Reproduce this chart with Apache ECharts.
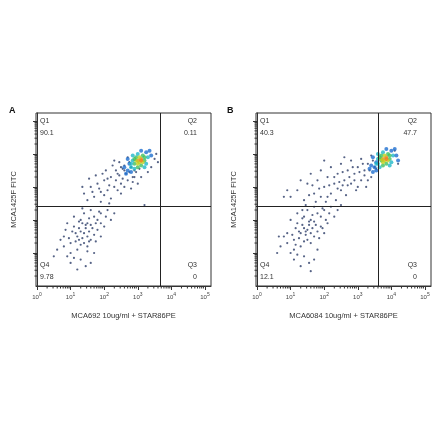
<!DOCTYPE html>
<html><head><meta charset="utf-8">
<script src="https://cdn.jsdelivr.net/npm/echarts@6/dist/echarts.min.js"></script>
<style>html,body{margin:0;background:#fff}#c{width:440px;height:441px}</style></head>
<body><div id="c"></div>
<script>
// values are log10 of fluorescence
const decades = [0,1,2,3,4,5];
const gateA = {x:3.66, y:2.42}, gateB = {x:3.6, y:2.42};
const quadA = {Q1:'90.1', Q2:'0.11', Q3:'0', Q4:'9.78'};
const quadB = {Q1:'40.3', Q2:'47.7', Q3:'0', Q4:'12.1'};
const titlesX = ['MCA692 10ug/ml + STAR86PE','MCA6084 10ug/ml + STAR86PE'];
const titleY = 'MCA1425F FITC';

const lowA = [[0.6,1.1],[0.8,1.5],[0.9,0.9],[1.0,1.3],[1.1,1.8],[1.2,1.5],[1.3,2.0],[1.4,1.6],[1.5,1.9],[1.6,1.4],[1.7,2.1],[1.8,1.7],[1.9,2.2],[2.0,1.8],[2.1,2.3],[1.2,1.1],[1.0,0.7],[1.3,0.8],[1.5,1.2],[1.7,1.0],[1.4,2.2],[1.1,2.1],[0.9,1.9],[0.7,1.4],[0.5,0.9],[1.25,1.75],[1.35,1.45],[1.45,1.85],[1.55,1.65],[1.65,1.75],[1.15,1.35],[1.05,1.65],[1.3,1.25],[1.6,2.3],[1.8,2.0],[1.9,1.5],[2.2,2.0],[1.45,0.6],[1.2,0.5],[1.6,0.7],[0.8,1.2],[1.0,1.0],[1.35,2.35],[1.75,1.35],[1.5,1.5],[1.4,1.3],[1.25,1.95],[1.55,2.05],[0.95,1.45],[1.85,2.25],[2.05,2.1],[1.1,0.85],[1.7,1.55],[1.3,1.65],[1.6,1.85],[1.15,1.6],[1.45,1.75],[1.35,1.9],[1.55,1.35],[0.85,1.7],[1.9,1.9],[1.25,1.4],[2.3,2.2],[1.5,1.05],[1.75,1.9]];
const upA = [[1.4,2.8],[1.5,2.6],[1.6,3.0],[1.7,2.7],[1.8,3.1],[1.9,2.85],[2.0,3.2],[2.1,2.9],[2.2,3.3],[2.3,3.0],[2.4,3.4],[2.5,3.1],[2.6,3.5],[2.7,3.2],[2.8,3.6],[2.9,3.3],[1.55,3.25],[1.75,3.35],[2.05,3.5],[2.25,3.65],[2.45,3.75],[1.9,2.55],[2.2,2.65],[2.5,2.8],[2.8,2.95],[3.0,3.1],[2.35,3.2],[2.65,3.4],[2.15,3.05],[1.95,3.4],[2.75,3.75],[2.55,3.55],[2.6,3.0],[2.9,3.5],[3.1,3.3],[2.4,2.9],[1.65,2.85],[2.0,2.75],[3.3,3.45],[3.5,3.85],[3.6,3.75],[3.55,4.0],[3.4,3.6],[2.3,3.8],[2.7,3.9],[3.2,2.45],[2.85,3.15],[2.45,3.35],[1.85,2.95],[2.1,3.25],[2.55,3.25],[2.75,3.45],[2.35,3.5],[2.95,3.45],[2.6,3.65],[3.05,3.55],[1.35,3.0],[2.15,2.5],[2.5,3.6],[2.85,3.3]];
const coreA = [[2.7,3.5,1],[2.8,3.6,2],[2.9,3.7,3],[3.0,3.8,5],[3.1,3.85,5],[3.05,3.75,4],[2.95,3.9,3],[3.15,3.95,3],[3.2,3.8,3],[2.85,3.8,2],[3.0,4.0,2],[3.25,4.05,1],[2.75,3.7,1],[3.3,3.9,2],[3.1,3.65,3],[2.9,3.55,2],[2.65,3.4,1],[2.8,3.45,1],[3.35,4.1,1],[3.4,3.95,1],[2.6,3.6,1],[3.0,3.6,3],[3.05,3.9,4],[2.95,3.8,4],[3.15,3.75,4],[3.2,3.6,2],[2.85,3.95,2],[3.1,4.1,1],[2.7,3.85,1],[3.25,3.7,2],[3.0,3.7,4],[3.1,3.8,5],[2.9,3.85,3],[3.2,3.9,3],[2.8,3.7,2]];

const lowB = [[0.7,1.2],[0.9,1.6],[1.0,1.0],[1.1,1.4],[1.2,1.9],[1.3,1.6],[1.4,2.1],[1.5,1.7],[1.6,2.0],[1.7,1.5],[1.8,2.2],[1.9,1.8],[2.0,2.3],[2.1,1.9],[2.2,2.4],[1.3,1.2],[1.1,0.8],[1.4,0.9],[1.6,1.3],[1.8,1.1],[1.5,2.3],[1.2,2.2],[1.0,2.0],[0.8,1.5],[0.6,1.0],[1.35,1.85],[1.45,1.55],[1.55,1.95],[1.65,1.75],[1.75,1.85],[1.25,1.45],[1.15,1.75],[1.4,1.35],[1.7,2.4],[1.9,2.1],[2.0,1.6],[2.3,2.1],[1.55,0.7],[1.3,0.6],[1.7,0.8],[0.9,1.3],[1.1,1.1],[1.45,2.45],[1.85,1.45],[1.6,1.6],[1.5,1.4],[1.35,2.05],[1.65,2.15],[1.05,1.55],[1.95,2.35],[2.15,2.2],[1.2,0.95],[1.8,1.65],[1.4,1.75],[1.7,1.95],[2.4,2.3],[2.5,2.45],[1.6,0.45],[0.65,1.5],[1.25,1.65],[1.55,1.85],[1.45,1.65],[2.05,2.0],[1.15,1.25],[1.95,1.75],[1.35,2.3]];
const upB = [[1.0,2.7],[1.2,2.9],[1.4,2.6],[1.5,3.1],[1.7,2.8],[1.8,3.2],[1.9,2.7],[2.0,3.0],[2.1,3.3],[2.2,2.8],[2.3,3.1],[2.4,3.4],[2.5,2.9],[2.6,3.2],[2.7,3.5],[2.8,3.1],[2.9,3.4],[3.0,3.6],[3.1,3.2],[3.2,3.5],[3.3,3.7],[3.4,3.3],[3.5,3.6],[1.6,3.4],[1.9,3.5],[2.2,3.6],[2.5,3.7],[2.8,3.8],[2.35,2.6],[2.65,2.75],[2.95,2.9],[3.25,3.0],[2.75,3.3],[3.05,3.45],[3.35,3.5],[2.45,3.15],[2.15,3.05],[1.75,2.55],[2.05,2.55],[2.55,3.45],[2.85,3.6],[3.15,3.7],[3.45,3.8],[1.3,3.2],[0.9,2.9],[2.0,3.8],[2.6,3.9],[3.0,3.0],[3.3,3.2],[2.4,2.95],[2.9,3.2],[3.2,3.35],[1.55,2.75],[1.85,2.95],[2.3,3.3],[2.7,3.05],[3.55,3.55],[3.4,3.95],[4.2,3.7],[4.1,4.1],[1.65,3.05],[2.1,2.7],[2.55,3.05],[3.1,3.85],[0.8,2.7]];
const coreB = [[3.5,3.6,1],[3.6,3.7,2],[3.7,3.8,3],[3.75,3.85,5],[3.85,3.9,5],[3.8,3.8,4],[3.7,3.95,3],[3.9,4.0,3],[3.95,3.85,3],[3.6,3.85,2],[3.75,4.05,2],[4.0,4.1,1],[3.55,3.75,1],[4.05,3.95,2],[3.85,3.7,3],[3.65,3.6,2],[3.45,3.45,1],[3.55,3.5,1],[4.1,4.15,1],[4.15,3.95,1],[3.4,3.65,1],[3.75,3.65,3],[3.8,3.95,4],[3.7,3.85,4],[3.9,3.8,4],[3.95,3.65,2],[3.6,4.0,2],[3.85,4.15,1],[3.45,3.9,1],[4.0,3.75,2],[3.75,3.75,4],[3.85,3.85,5],[3.65,3.9,3],[3.95,3.95,3],[3.55,3.7,2],[4.2,3.8,1],[3.35,3.55,1]];

const minorTicks = [];
for (let d=0; d<5; d++) for (let k=2; k<10; k++) minorTicks.push(d+Math.log10(k));

const grids = [{left:36,top:113,width:175,height:173},{left:256,top:113,width:175,height:173}];
const dens = ['#1b2c6b','#1f6fd0','#20b8c8','#40c060','#c0d020','#f08020'];
const sparseCol = '#1d2f5e';

const option = {animation:false, grid:grids.map(g=>Object.assign({show:true,borderColor:'#333',borderWidth:1},g)),
  xAxis:[0,1].map(i=>({gridIndex:i,type:'value',min:-0.03,max:5.18,interval:1,splitLine:{show:false},
    axisLine:{lineStyle:{color:'#333'}},axisTick:{length:4,lineStyle:{color:'#333'},customValues:decades},
    axisLabel:{customValues:decades,margin:6,formatter:v=>'{b|10}{s|'+v+'}',rich:{b:{fontSize:6,color:'#444'},s:{fontSize:5,color:'#444',verticalAlign:'top',padding:[0,0,5,0]}}},
    name:titlesX[i],nameLocation:'middle',nameGap:26,nameTextStyle:{fontSize:7.5,color:'#333',fontFamily:'Liberation Sans'}})),
  yAxis:[0,1].map(i=>({gridIndex:i,type:'value',min:0,max:5.24,interval:1,splitLine:{show:false},
    axisLine:{lineStyle:{color:'#333'}},axisTick:{length:4,lineStyle:{color:'#333'},customValues:[1,2,3,4,5]},axisLabel:{show:false},
    name:titleY,nameLocation:'middle',nameGap:18,nameTextStyle:{fontSize:7.5,color:'#333',fontFamily:'Liberation Sans'}})),
  visualMap:[{type:'piecewise',show:false,dimension:2,seriesIndex:[2,5],pieces:[1,2,3,4,5].map(v=>({value:v,color:dens[v]}))}],
  series:[], graphic:[]};

[[lowA,upA,coreA,gateA],[lowB,upB,coreB,gateB]].forEach((s,i)=>{
  const sym={symbolSize:2.2,xAxisIndex:i,yAxisIndex:i,type:'scatter',silent:true};
  option.series.push(Object.assign({},sym,{data:s[0],itemStyle:{color:sparseCol,opacity:0.75}}));
  option.series.push(Object.assign({},sym,{data:s[1],itemStyle:{color:sparseCol,opacity:0.75},
    markLine:{silent:true,symbol:'none',label:{show:false},lineStyle:{color:'#222',width:1,type:'solid'},data:[{xAxis:s[3].x},{yAxis:s[3].y}]}}));
  option.series.push(Object.assign({},sym,{data:s[2],symbolSize:4}));
});
// minor log ticks
[0,1].forEach(i=>{
  option.series.push({type:'custom',xAxisIndex:i,yAxisIndex:i,silent:true,data:minorTicks.map(v=>[v]),
    renderItem:(p,api)=>{const x=api.coord([api.value(0),0]);const y=api.coord([0,api.value(0)]);
      const out=[{type:'line',shape:{x1:x[0],y1:x[1],x2:x[0],y2:x[1]+2.5},style:{stroke:'#333',lineWidth:1}}];
      if(api.value(0)<=5.24) out.push({type:'line',shape:{x1:y[0],y1:y[1],x2:y[0]-2.5,y2:y[1]},style:{stroke:'#333',lineWidth:1}});
      return {type:'group',children:out};}});
});
const txt=(x,y,t,align,extra)=>({type:'text',x:x,y:y,style:Object.assign({text:t,fontSize:7,fill:'#333',align:align||'left',fontFamily:'Liberation Sans'},extra||{})});
[[quadA,36,'A',9],[quadB,256,'B',227]].forEach(([q,l,lab,lx])=>{
  option.graphic.push(txt(l+4,118,'Q1'),txt(l+4,130,q.Q1),txt(l+161,118,'Q2','right'),txt(l+161,130,q.Q2,'right'),
    txt(l+4,262,'Q4'),txt(l+4,274,q.Q4),txt(l+161,262,'Q3','right'),txt(l+161,274,q.Q3,'right'),
    txt(lx,106,lab,'left',{fontSize:9,fontWeight:'bold',fill:'#111'}));
});
echarts.init(document.getElementById('c')).setOption(option);
</script></body></html>
